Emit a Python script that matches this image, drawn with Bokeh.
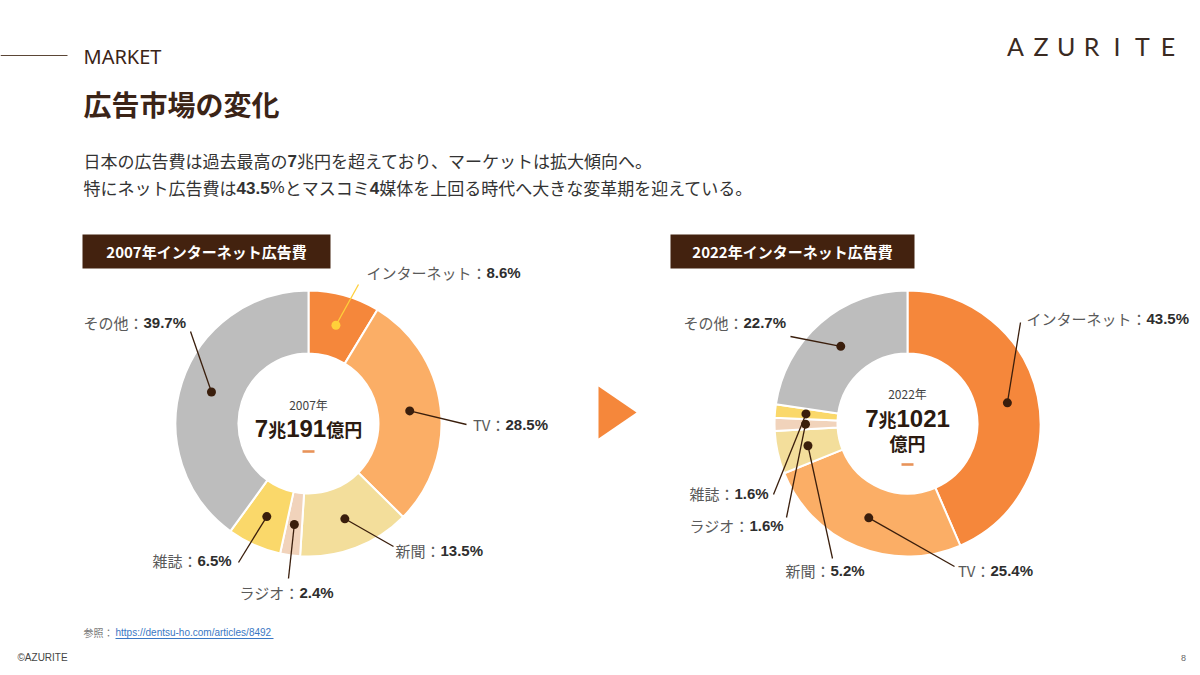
import math

from bokeh.core.properties import value
from bokeh.embed import file_html
from bokeh.models import ColumnDataSource, Range1d
from bokeh.plotting import figure
from bokeh.resources import INLINE

# ---------------------------------------------------------------- data
media = ["インターネット", "TV", "新聞", "ラジオ", "雑誌", "その他"]
share_2007 = [8.6, 28.5, 13.5, 2.4, 6.5, 39.7]
share_2022 = [43.5, 25.4, 5.2, 1.6, 1.6, 22.7]
chart_years = ["2007", "2022"]
total_cho = [7, 7]          # 兆円
total_oku = [191, 1021]     # 億円

# ---------------------------------------------------------------- styles
W, H = 1200, 675
JP = "Noto Sans CJK JP"
LAT = "Liberation Sans"
BROWN = "#3B2417"
BOX = "#43220F"
DOT = "#3A1E0C"
ORANGE = "#F5873B"
slice_colors = ["#F5873B", "#FBAE66", "#F3DE9B", "#F1D3BB", "#FAD86A", "#BDBDBD"]

R_IN, R_OUT, R_DOT = 70, 133, 102


def fy(py):
    """page coordinate (from the top) -> data y"""
    return H - py


p = figure(width=W, height=H, x_range=Range1d(0, W), y_range=Range1d(0, H),
           output_backend="svg", toolbar_location=None, min_border=0,
           x_axis_location=None, y_axis_location=None,
           background_fill_color="white", border_fill_color="white",
           outline_line_color=None)
p.grid.visible = False


def txt(x, y, s, size, color, font=JP, bold=False, align="left", baseline="middle"):
    p.text(x=[x], y=[fy(y)], text=[s], text_font=value(font),
           text_font_size=f"{size}px", text_color=color,
           text_font_style="bold" if bold else "normal",
           text_align=align, text_baseline=baseline)


LAT_W = {".": 0.278, "%": 0.889, " ": 0.278}


def run_width(s, size, font):
    w = 0.0
    for ch in s:
        if ord(ch) > 0x2000:
            w += size
        else:
            w += LAT_W.get(ch, 0.556) * size
    return w


def runs(x, y, parts, align="left"):
    """draw a line made of (text, size, color, font, bold) runs"""
    total = sum(run_width(s, sz, f) for s, sz, c, f, b in parts)
    if align == "center":
        x -= total / 2
    for s, sz, c, f, b in parts:
        txt(x, y, s, sz, c, font=f, bold=b)
        x += run_width(s, sz, f)


# ---------------------------------------------------------------- header
p.segment(x0=[0], y0=[fy(55)], x1=[67], y1=[fy(55)], line_color="#5B4636", line_width=1)
txt(83, 56, "MARKET", 20, BROWN, font="Noto Sans")
txt(83, 103, "広告市場の変化", 28, BROWN, bold=True)

logo = "AZURITE"
for i, ch in enumerate(logo):
    txt(1015 + i * 25.4, 45, ch, 25, "#3A2A22", font="Lato", align="center")

TXT = "#333333"
FS = 17
runs(83, 160, [
    ("日本の広告費は過去最高の", FS, TXT, JP, False),
    ("7", FS, TXT, LAT, True),
    ("兆円を超えており、マーケットは拡大傾向へ。", FS, TXT, JP, False),
])
runs(83, 187, [
    ("特にネット広告費は", FS, TXT, JP, False),
    ("43.5", FS, TXT, LAT, True),
    ("%", FS, TXT, LAT, False),
    ("とマスコミ", FS, TXT, JP, False),
    ("4", FS, TXT, LAT, True),
    ("媒体を上回る時代へ大きな変革期を迎えている。", FS, TXT, JP, False),
])

# ---------------------------------------------------------------- donuts
# leader end point and label split point for each medium
layout_2007 = [((358, 284), (486, 272)), ((466, 424), (505, 424)),
               ((393, 546), (440, 550)), ((288, 578), (299, 592)),
               ((238, 562), (197, 560)), ((190, 331), (143, 322))]
layout_2022 = [((1020, 322), (1146, 318)), ((954, 566), (990, 570)),
               ((832, 558), (830, 570)), ((786, 517), (749, 525)),
               ((773, 494), (734, 493)), ((790, 336), (743, 322))]
lead_2007 = ["#FFD03A"] + [DOT] * 5
lead_2022 = [DOT] * 6


def donut(cx, cy, shares, layout, leads, year, cho, oku, box_x, box_w, two_line):
    tot = sum(shares)
    cum = [0.0]
    for s in shares:
        cum.append(cum[-1] + s / tot)
    src = ColumnDataSource(dict(
        start=[math.pi / 2 - 2 * math.pi * c for c in cum[:-1]],
        end=[math.pi / 2 - 2 * math.pi * c for c in cum[1:]],
        color=slice_colors,
    ))
    p.annular_wedge(x=cx, y=fy(cy), inner_radius=R_IN, outer_radius=R_OUT,
                    start_angle="start", end_angle="end", direction="clock",
                    fill_color="color", line_color="white", line_width=2,
                    source=src)

    for i, (name, s) in enumerate(zip(media, shares)):
        th = 2 * math.pi * (cum[i] + cum[i + 1]) / 2
        dx = cx + R_DOT * math.sin(th)
        dy = cy - R_DOT * math.cos(th)
        (ex, ey), (sx, sy) = layout[i]
        p.segment(x0=[dx], y0=[fy(dy)], x1=[ex], y1=[fy(ey)],
                  line_color=leads[i], line_width=1.3)
        p.scatter(x=[dx], y=[fy(dy)], size=9, marker="circle",
                  fill_color=leads[i], line_color=None)
        txt(sx, sy, f"{name}：", 15, "#5A5A5A", align="right")
        txt(sx, sy, f"{s}%", 15, "#2E2E2E", font=LAT, bold=True)

    # title plate
    p.quad(left=[box_x], right=[box_x + box_w], top=[fy(234)], bottom=[fy(268)],
           fill_color=BOX, line_color=None)
    txt(box_x + box_w / 2, 251, f"{year}年インターネット広告費", 15, "white",
        bold=True, align="center")

    # centre total
    big = "#2B1A10"
    if not two_line:
        txt(cx, 404, f"{year}年", 12, "#444444", align="center")
        runs(cx, 428, [(str(cho), 24, big, LAT, True), ("兆", 18, big, JP, True),
                       (str(oku), 24, big, LAT, True), ("億円", 18, big, JP, True)],
             align="center")
        dash_y = 451
    else:
        txt(cx, 393, f"{year}年", 12, "#444444", align="center")
        runs(cx, 418, [(str(cho), 24, big, LAT, True), ("兆", 18, big, JP, True),
                       (str(oku), 24, big, LAT, True)],
             align="center")
        txt(cx, 442, "億円", 18, big, bold=True, align="center")
        dash_y = 464
    p.quad(left=[cx - 6], right=[cx + 6], top=[fy(dash_y - 1.3)], bottom=[fy(dash_y + 1.3)],
           fill_color="#E8935A", line_color=None)


donut(308, 423, share_2007, layout_2007, lead_2007, chart_years[0],
      total_cho[0], total_oku[0], 82, 248, False)
donut(907, 423, share_2022, layout_2022, lead_2022, chart_years[1],
      total_cho[1], total_oku[1], 670, 244, True)

# arrow between the two charts
p.patch(x=[598, 598, 636], y=[fy(386), fy(438), fy(412)], fill_color=ORANGE, line_color=None)

# ---------------------------------------------------------------- footer
txt(83, 632, "参照：", 10, "#777777")
txt(115, 632, "https://dentsu-ho.com/articles/8492", 10, "#3A78C4", font=LAT)
p.segment(x0=[115], y0=[fy(638)], x1=[273], y1=[fy(638)], line_color="#3A78C4", line_width=1)
txt(17, 657, "©AZURITE", 10, "#444444", font=LAT)
txt(1183, 657, "8", 9, "#666666", font=LAT, align="center")

open("out.html", "w").write(file_html(p, INLINE))
